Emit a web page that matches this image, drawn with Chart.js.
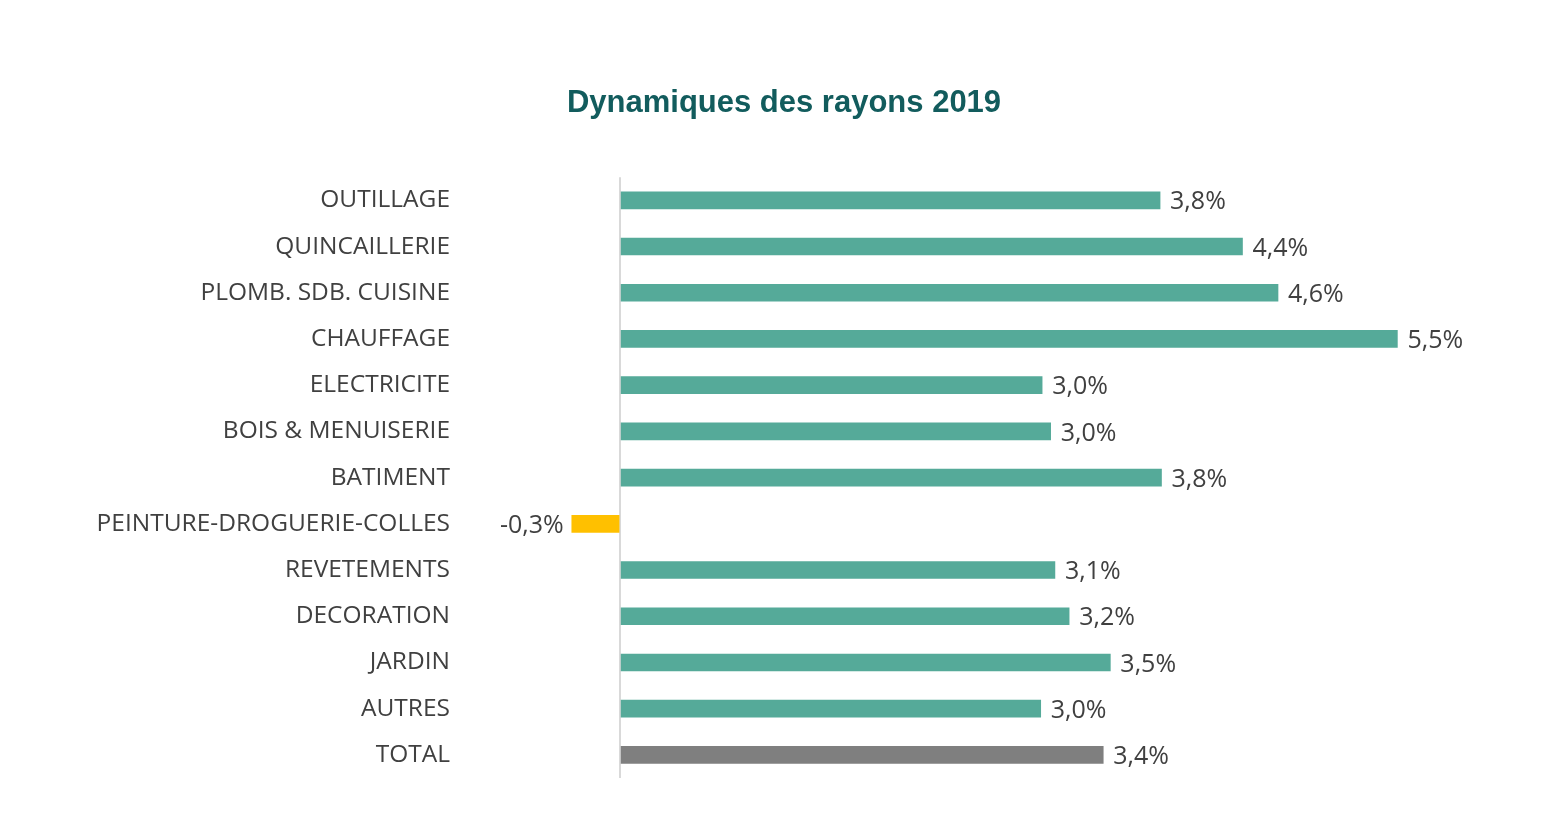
<!DOCTYPE html>
<html>
<head>
<meta charset="utf-8">
<script src="https://cdn.jsdelivr.net/npm/chart.js@4"></script>
<style>
  html, body { margin: 0; padding: 0; background: #fff; }
  #wrap { width: 1551px; height: 830px; }
</style>
</head>
<body>
<div id="wrap"><canvas id="chart"></canvas></div>
<script>
// data
const categories = ['OUTILLAGE', 'QUINCAILLERIE', 'PLOMB. SDB. CUISINE', 'CHAUFFAGE', 'ELECTRICITE',
  'BOIS & MENUISERIE', 'BATIMENT', 'PEINTURE-DROGUERIE-COLLES', 'REVETEMENTS', 'DECORATION',
  'JARDIN', 'AUTRES', 'TOTAL'];
const growth = [3.80, 4.38, 4.63, 5.47, 2.97, 3.03, 3.81, -0.34, 3.06, 3.16, 3.45, 2.96, 3.40];

const TEAL = '#55aa99';
const YELLOW = '#ffc000';
const GREY = '#7f7f7f';

const barColors = growth.map((v, i) => {
  if (i === categories.length - 1) return GREY;
  return v < 0 ? YELLOW : TEAL;
});

const fmt = v => v.toFixed(1).replace('.', ',') + '%';

// value labels at the end of each bar
const valueLabels = {
  id: 'valueLabels',
  afterDatasetsDraw(chart) {
    const ctx = chart.ctx;
    const meta = chart.getDatasetMeta(0);
    ctx.save();
    ctx.font = '25px "Open Sans"';
    ctx.fillStyle = '#404040';
    ctx.textBaseline = 'middle';
    meta.data.forEach((bar, i) => {
      const v = growth[i];
      if (v < 0) {
        ctx.textAlign = 'right';
        ctx.fillText(fmt(v), bar.x - 8, bar.y + 2);
      } else {
        ctx.textAlign = 'left';
        ctx.fillText(fmt(v), bar.x + 10, bar.y + 2);
      }
    });
    ctx.restore();
  }
};

new Chart(document.getElementById('chart'), {
  type: 'bar',
  data: {
    labels: categories,
    datasets: [{
      data: growth,
      backgroundColor: barColors,
      barThickness: 17,
      borderSkipped: false
    }]
  },
  options: {
    indexAxis: 'y',
    responsive: true,
    maintainAspectRatio: false,
    animation: false,
    layout: { padding: { left: 20, right: 3, top: 20, bottom: 52 } },
    plugins: {
      legend: { display: false },
      tooltip: { enabled: false },
      title: {
        display: true,
        text: 'Dynamiques des rayons 2019',
        color: '#125c5d',
        font: { family: '"Liberation Sans", Arial, sans-serif', size: 31, weight: 'bold' },
        padding: { top: 65, bottom: 55 }
      }
    },
    scales: {
      x: {
        min: -1,
        max: 6.53,
        ticks: { display: false },
        border: { display: false },
        grid: {
          drawTicks: false,
          lineWidth: 2,
          color: c => c.tick && c.tick.value === 0 ? '#d9d9d9' : 'rgba(0,0,0,0)'
        }
      },
      y: {
        border: { display: false },
        grid: { display: false, drawTicks: false },
        ticks: {
          color: '#404040',
          font: { family: '"Open Sans"', size: 24.5 },
          padding: 28,
          autoSkip: false
        },
        afterFit(scale) { scale.width = 458; }
      }
    }
  },
  plugins: [valueLabels]
});
</script>
</body>
</html>
